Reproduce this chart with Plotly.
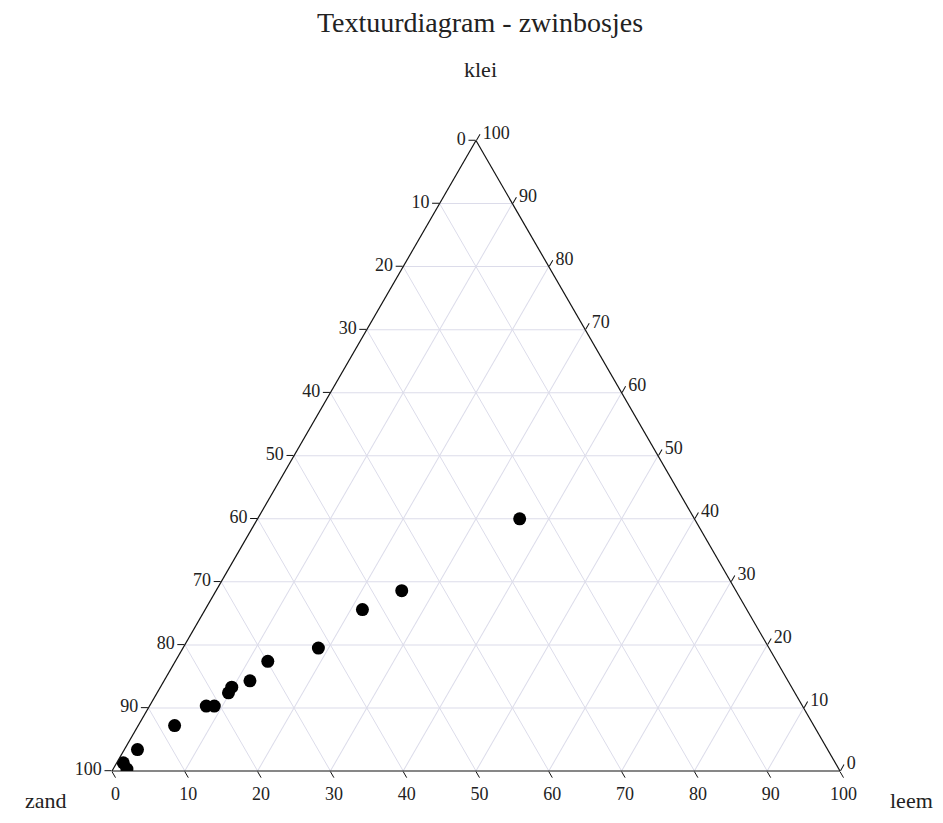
import plotly.graph_objects as go

# Sample composition (%)
klei = [40.0, 28.6, 25.6, 19.5, 17.4, 14.3, 13.3, 12.4, 10.3, 10.3, 7.2, 3.4, 1.3, 0.3]
leem = [36.0, 25.5, 21.6, 18.6, 12.7, 11.8, 9.8, 9.8, 7.8, 8.9, 5.0, 1.8, 0.9, 1.9]
zand = [24.0, 45.9, 52.8, 61.9, 69.9, 73.9, 76.9, 77.8, 81.9, 80.8, 87.8, 94.8, 97.8, 97.8]

tick_vals = [0, 10, 20, 30, 40, 50, 60, 70, 80, 90, 100]
# labels as printed along each edge
left_labels = ["100", "90", "80", "70", "60", "50", "40", "30", "20", "10", "0"]
bottom_labels = ["100", "90", "80", "70", "60", "50", "40", "30", "20", "10", "0"]
right_labels = ["100", "90", "80", "70", "60", "50", "40", "30", "20", "10", "0"]

SERIF = "Liberation Serif, Times New Roman, serif"
OFF = 8  # page body margin
W, H = 943 - 2 * OFF, 823 - 2 * OFF

def px(x):
    return (x - OFF) / W

def py(y):
    return 1 - (y - OFF) / H

fig = go.Figure()
fig.add_trace(go.Scatterternary(
    a=klei, b=zand, c=leem,
    mode="markers",
    marker=dict(color="black", size=13, line=dict(width=0)),
    showlegend=False,
))

axis_common = dict(
    tickmode="array", tickvals=tick_vals,
    linecolor="#111111", linewidth=1.2,
    gridcolor="#dcdcea", gridwidth=1,
    ticks="outside", ticklen=7, tickcolor="#111111",
    tickfont=dict(family=SERIF, size=18, color="#222222"),
    showgrid=True, min=0, title=dict(text=""),
)

x0, x1 = 112, 840
ybase, ytop = 771, 140.5
fig.update_layout(
    width=W, height=H,
    margin=dict(l=0, r=0, t=0, b=0),
    paper_bgcolor="white",
    font=dict(family=SERIF, color="#222222"),
    title=dict(text="Textuurdiagram - zwinbosjes", x=px(480), xanchor="center",
               y=py(22), yref="container", yanchor="middle",
               font=dict(family=SERIF, size=28, color="#222222")),
    ternary=dict(
        domain=dict(x=[px(x0), px(x1)], y=[py(ybase), py(ytop)]),
        bgcolor="white",
        sum=100,
        aaxis=dict(ticktext=left_labels, **axis_common),
        baxis=dict(ticktext=bottom_labels, **axis_common),
        caxis=dict(ticktext=right_labels, **axis_common),
    ),
    annotations=[
        dict(text="klei", x=px(480), y=py(70), xref="paper", yref="paper",
             xanchor="center", yanchor="middle",
             showarrow=False, font=dict(family=SERIF, size=22, color="#222222")),
        dict(text="zand", x=px(46), y=py(800), xref="paper", yref="paper",
             xanchor="center", yanchor="middle",
             showarrow=False, font=dict(family=SERIF, size=22, color="#222222")),
        dict(text="leem", x=px(911), y=py(800), xref="paper", yref="paper",
             xanchor="center", yanchor="middle",
             showarrow=False, font=dict(family=SERIF, size=22, color="#222222")),
    ],
)

fig.write_html("out.html")
